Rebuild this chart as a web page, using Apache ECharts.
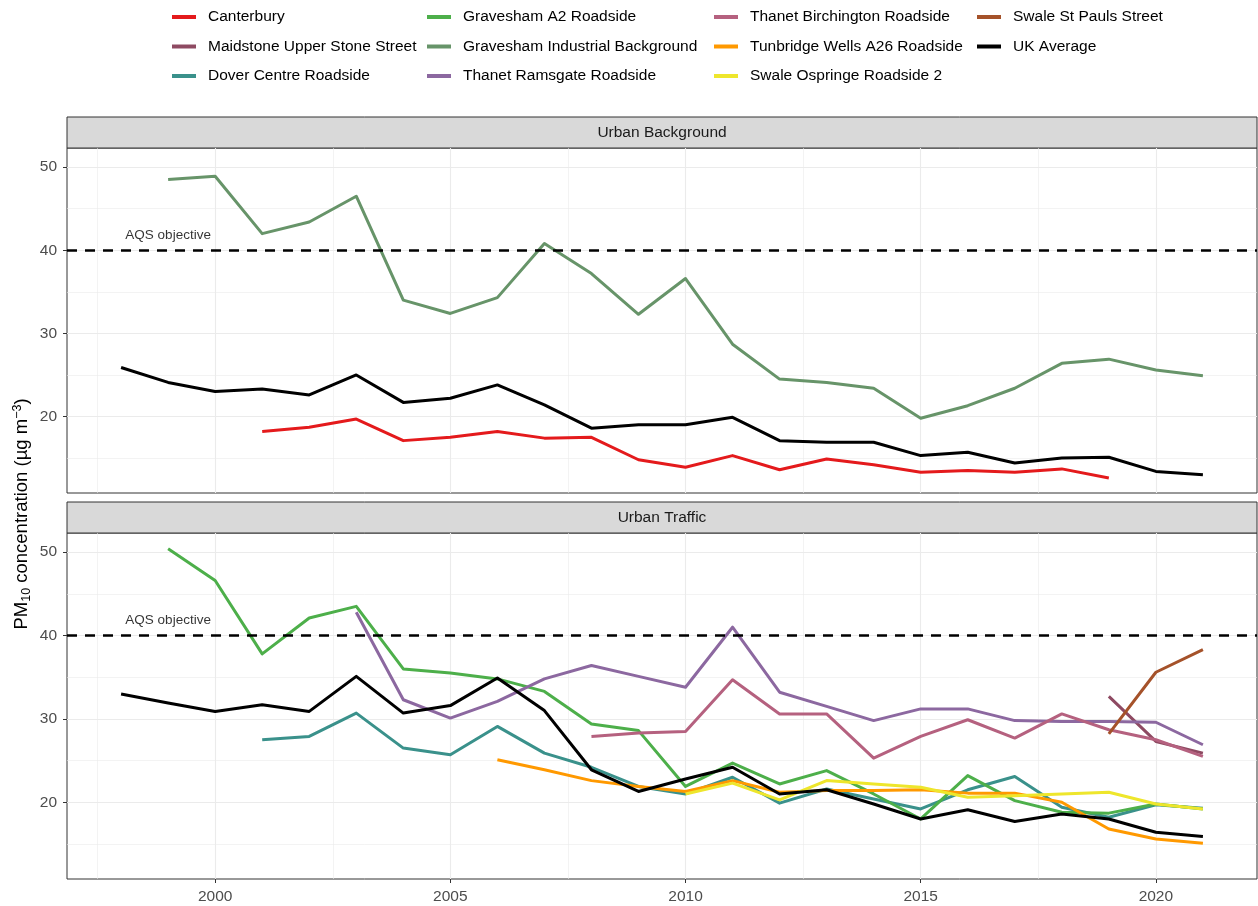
<!DOCTYPE html>
<html>
<head>
<meta charset="utf-8">
<title>PM10 concentration</title>
<script src="https://cdn.jsdelivr.net/npm/echarts@6/dist/echarts.min.js"></script>
<style>
  html, body { margin: 0; padding: 0; background: #fff; }
  #chart { width: 1258px; height: 906px; }
</style>
</head>
<body>
<div id="chart"></div>
<script>
// years on the x axis
const years = [1998, 1999, 2000, 2001, 2002, 2003, 2004, 2005, 2006, 2007, 2008, 2009,
               2010, 2011, 2012, 2013, 2014, 2015, 2016, 2017, 2018, 2019, 2020, 2021];

// Urban Background panel
const canterbury     = [null, null, null, 18.2, 18.7, 19.7, 17.1, 17.5, 18.2, 17.4, 17.5, 14.8,
                        13.9, 15.3, 13.6, 14.9, 14.2, 13.3, 13.5, 13.3, 13.7, 12.6, null, null];
const gravIndustrial = [null, 48.5, 48.9, 42.0, 43.4, 46.5, 34.0, 32.4, 34.3, 40.8, 37.2, 32.3,
                        36.6, 28.7, 24.5, 24.1, 23.4, 19.8, 21.3, 23.4, 26.4, 26.9, 25.6, 24.9];
const ukAvgBackground = [25.9, 24.1, 23.0, 23.3, 22.6, 25.0, 21.7, 22.2, 23.8, 21.4, 18.6, 19.0,
                        19.0, 19.9, 17.1, 16.9, 16.9, 15.3, 15.7, 14.4, 15.0, 15.1, 13.4, 13.0];

// Urban Traffic panel
const maidstone   = [null, null, null, null, null, null, null, null, null, null, null, null,
                     null, null, null, null, null, null, null, null, null, 32.7, 27.3, 25.9];
const dover       = [null, null, null, 27.5, 27.9, 30.7, 26.5, 25.7, 29.1, 25.9, 24.2, 21.9,
                     21.0, 23.0, 19.9, 21.6, 20.4, 19.2, 21.5, 23.1, 19.4, 18.2, 19.7, 19.3];
const gravA2      = [null, 50.4, 46.6, 37.8, 42.1, 43.5, 36.0, 35.5, 34.8, 33.3, 29.4, 28.6,
                     21.9, 24.7, 22.2, 23.8, 21.0, 18.0, 23.2, 20.2, 18.8, 18.7, 19.8, 19.2];
const ramsgate    = [null, null, null, null, null, 42.8, 32.3, 30.1, 32.1, 34.8, 36.4, 35.1,
                     33.8, 41.0, 33.2, 31.5, 29.8, 31.2, 31.2, 29.8, 29.7, 29.7, 29.6, 26.9];
const birchington = [null, null, null, null, null, null, null, null, null, null, 27.9, 28.3,
                     28.5, 34.7, 30.6, 30.6, 25.3, 27.9, 29.9, 27.7, 30.6, 28.7, 27.5, 25.5];
const tunbridge   = [null, null, null, null, null, null, null, null, 25.1, 23.9, 22.6, 21.9,
                     21.3, 22.6, 21.2, 21.4, 21.4, 21.5, 21.1, 21.1, 20.0, 16.8, 15.6, 15.1];
const ospringe    = [null, null, null, null, null, null, null, null, null, null, null, null,
                     21.0, 22.3, 20.3, 22.6, 22.2, 21.8, 20.6, 20.8, 21.0, 21.2, 19.8, 19.2];
const stPauls     = [null, null, null, null, null, null, null, null, null, null, null, null,
                     null, null, null, null, null, null, null, null, null, 28.2, 35.6, 38.3];
const ukAvgTraffic = [33.0, 31.9, 30.9, 31.7, 30.9, 35.1, 30.7, 31.6, 34.9, 31.0, 23.9, 21.3,
                     22.8, 24.2, 21.0, 21.5, 19.8, 18.0, 19.1, 17.7, 18.6, 18.0, 16.4, 15.9];

// objective line and its label
const aqsObjective = 40;
const aqsLabel = [[1999, 41.8]];

// ticks
const xTicks = [2000, 2005, 2010, 2015, 2020];
const yTicks = [20, 30, 40, 50];

const colours = {
  'Canterbury': '#E41A1C',
  'Maidstone Upper Stone Street': '#8E4A62',
  'Dover Centre Roadside': '#3A918B',
  'Gravesham A2 Roadside': '#4DAF4A',
  'Gravesham Industrial Background': '#679469',
  'Thanet Ramsgate Roadside': '#8C68A0',
  'Thanet Birchington Roadside': '#B5617F',
  'Tunbridge Wells A26 Roadside': '#FF9900',
  'Swale Ospringe Roadside 2': '#EEE62C',
  'Swale St Pauls Street': '#A5522A',
  'UK Average': '#000000'
};

const topSeries = [
  ['Canterbury', canterbury],
  ['Gravesham Industrial Background', gravIndustrial],
  ['UK Average', ukAvgBackground]
];
const bottomSeries = [
  ['Maidstone Upper Stone Street', maidstone],
  ['Dover Centre Roadside', dover],
  ['Gravesham A2 Roadside', gravA2],
  ['Thanet Ramsgate Roadside', ramsgate],
  ['Thanet Birchington Roadside', birchington],
  ['Tunbridge Wells A26 Roadside', tunbridge],
  ['Swale Ospringe Roadside 2', ospringe],
  ['Swale St Pauls Street', stPauls],
  ['UK Average', ukAvgTraffic]
];

const legendCols = [
  { left: 172, data: ['Canterbury', 'Maidstone Upper Stone Street', 'Dover Centre Roadside'] },
  { left: 427, data: ['Gravesham A2 Roadside', 'Gravesham Industrial Background', 'Thanet Ramsgate Roadside'] },
  { left: 714, data: ['Thanet Birchington Roadside', 'Tunbridge Wells A26 Roadside', 'Swale Ospringe Roadside 2'] },
  { left: 977, data: ['Swale St Pauls Street', 'UK Average'] }
];

const FONT = "'Liberation Sans', Arial, sans-serif";
const PLOT_L = 67, PLOT_W = 1190;
const panels = [
  { top: 148, height: 345, strip: 117, title: 'Urban Background' },
  { top: 533, height: 346, strip: 502, title: 'Urban Traffic' }
];

const toPoints = vals => years.map((y, i) => [y, vals[i]]).filter(p => p[1] !== null);

function lineSeries(name, vals, idx) {
  return {
    name: name,
    type: 'line',
    xAxisIndex: idx,
    yAxisIndex: idx,
    data: toPoints(vals),
    showSymbol: false,
    symbol: 'none',
    color: colours[name],
    lineStyle: { color: colours[name], width: 3, cap: 'butt', join: 'round' },
    emphasis: { disabled: true },
    z: 3
  };
}

const series = [];
[topSeries, bottomSeries].forEach((list, idx) => {
  list.forEach(([name, vals]) => series.push(lineSeries(name, vals, idx)));
  // dashed objective line
  series.push({
    type: 'line',
    xAxisIndex: idx,
    yAxisIndex: idx,
    data: [],
    markLine: {
      silent: true,
      symbol: 'none',
      label: { show: false },
      lineStyle: { color: '#000', width: 2.5, type: [10, 8] },
      data: [{ yAxis: aqsObjective }]
    },
    z: 2
  });
  series.push({
    type: 'scatter',
    xAxisIndex: idx,
    yAxisIndex: idx,
    data: aqsLabel,
    symbolSize: 1,
    itemStyle: { color: 'transparent' },
    silent: true,
    label: {
      show: true,
      position: 'inside',
      formatter: 'AQS objective',
      color: '#000',
      fontSize: 13.5,
      fontFamily: FONT
    }
  });
});

const chart = echarts.init(document.getElementById('chart'));

chart.setOption({
  animation: false,
  textStyle: { fontFamily: FONT },
  legend: legendCols.map(col => ({
    data: col.data,
    left: col.left,
    top: 9,
    orient: 'vertical',
    padding: 0,
    itemWidth: 24,
    itemHeight: 4,
    itemGap: 13.5,
    icon: 'rect',
    selectedMode: false,
    textStyle: { fontSize: 15.5, color: '#000', fontFamily: FONT, padding: [0, 0, 0, 7] }
  })),
  grid: panels.map(p => ({
    left: PLOT_L, top: p.top, width: PLOT_W, height: p.height,
    show: true, borderColor: '#333333', borderWidth: 1, backgroundColor: 'transparent'
  })),
  xAxis: panels.map((p, idx) => ({
    type: 'value',
    gridIndex: idx,
    min: 1996.85,
    max: 2022.15,
    splitNumber: 5,
    axisLine: { show: false },
    axisTick: { show: idx === 1, length: 4, lineStyle: { color: '#333' }, customValues: xTicks },
    axisLabel: {
      show: idx === 1, customValues: xTicks, color: '#4D4D4D', fontSize: 15.5, margin: 10,
      formatter: v => String(v)
    },
    splitLine: { show: true, lineStyle: { color: '#EBEBEB', width: 1.1 } },
    minorTick: { show: false, splitNumber: 2 },
    minorSplitLine: { show: true, lineStyle: { color: '#EBEBEB', width: 0.6 } }
  })),
  yAxis: panels.map((p, idx) => ({
    type: 'value',
    gridIndex: idx,
    min: 10.8,
    max: 52.3,
    splitNumber: 4,
    axisLine: { show: false },
    axisTick: { show: true, length: 4, lineStyle: { color: '#333' }, customValues: yTicks },
    axisLabel: { customValues: yTicks, color: '#4D4D4D', fontSize: 15.5, margin: 10 },
    splitLine: { show: true, lineStyle: { color: '#EBEBEB', width: 1.1 } },
    minorTick: { show: false, splitNumber: 2 },
    minorSplitLine: { show: true, lineStyle: { color: '#EBEBEB', width: 0.6 } }
  })),
  graphic: [
    ...panels.flatMap(p => [
      {
        type: 'rect',
        shape: { x: PLOT_L, y: p.strip, width: PLOT_W, height: p.top - p.strip },
        style: { fill: '#D9D9D9', stroke: '#333333', lineWidth: 1 },
        silent: true
      },
      {
        type: 'text',
        x: PLOT_L + PLOT_W / 2,
        y: p.strip + (p.top - p.strip) / 2,
        style: {
          text: p.title, fill: '#1A1A1A', fontSize: 15.5, fontFamily: FONT,
          textAlign: 'center', textVerticalAlign: 'middle'
        },
        silent: true
      }
    ]),
    {
      type: 'text',
      x: 22,
      y: 514,
      rotation: Math.PI / 2,
      style: {
        text: '{a|PM}{sub|10}{a| concentration (µg m}{sup|−3}{a|)}',
        textAlign: 'center',
        textVerticalAlign: 'middle',
        fill: '#000',
        fontFamily: FONT,
        rich: {
          a: { fontSize: 18.5, lineHeight: 22, fill: '#000', fontFamily: FONT },
          sub: { fontSize: 12.5, lineHeight: 14, verticalAlign: 'bottom', fill: '#000', fontFamily: FONT },
          sup: { fontSize: 12.5, lineHeight: 12, verticalAlign: 'top', fill: '#000', fontFamily: FONT }
        }
      },
      silent: true
    }
  ],
  series: series
});
</script>
</body>
</html>
